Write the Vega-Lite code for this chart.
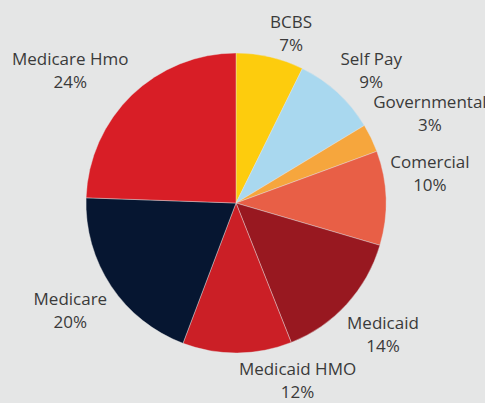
{
  "$schema": "https://vega.github.io/schema/vega-lite/v6.json",
  "width": 472,
  "height": 400,
  "autosize": "none",
  "padding": {"left": 0, "right": 13, "top": 3, "bottom": 0},
  "background": "#e5e6e6",
  "config": {
    "view": {"stroke": null},
    "text": {"font": "Open Sans", "fontSize": 17, "lineHeight": 23, "color": "#3a3a3a", "baseline": "middle", "align": "center"}
  },
  "data": {
    "values": [
      {"payer": "BCBS", "share": 7.3, "idx": 1},
      {"payer": "Self Pay", "share": 9.05, "idx": 2},
      {"payer": "Governmental", "share": 3.05, "idx": 3},
      {"payer": "Comercial", "share": 10.15, "idx": 4},
      {"payer": "Medicaid", "share": 14.45, "idx": 5},
      {"payer": "Medicaid HMO", "share": 11.75, "idx": 6},
      {"payer": "Medicare", "share": 19.8, "idx": 7},
      {"payer": "Medicare Hmo", "share": 24.45, "idx": 8}
    ]
  },
  "transform": [
    {"stack": "share", "groupby": [], "sort": [{"field": "idx", "order": "ascending"}], "as": ["s0", "s1"]},
    {"calculate": "(datum.s0 + datum.s1) / 2", "as": "smid"},
    {"calculate": "[datum.payer, format(datum.share / 100, '.0%')]", "as": "label"}
  ],
  "layer": [
    {
      "mark": {"type": "arc", "outerRadius": 150, "stroke": "#e5e6e6", "strokeWidth": 0.4},
      "encoding": {
        "theta": {"field": "s0", "type": "quantitative", "stack": null, "scale": {"domain": [0, 100]}},
        "theta2": {"field": "s1"},
        "color": {
          "field": "payer",
          "type": "nominal",
          "legend": null,
          "scale": {
            "domain": ["BCBS", "Self Pay", "Governmental", "Comercial", "Medicaid", "Medicaid HMO", "Medicare", "Medicare Hmo"],
            "range": ["#fdcc0d", "#a9d8ef", "#f6a63d", "#e85f46", "#981820", "#cb1f26", "#061631", "#d81e26"]
          }
        }
      }
    },
    {
      "transform": [{"filter": {"field": "payer", "equal": "Self Pay"}}],
      "mark": {"type": "text", "radius": 194, "dx": 4},
      "encoding": {
        "theta": {"field": "smid", "type": "quantitative", "stack": null, "scale": {"domain": [0, 100]}},
        "text": {"field": "label"}
      }
    },
    {
      "transform": [{"filter": {"field": "payer", "oneOf": ["Medicaid", "Medicare"]}}],
      "mark": {"type": "text", "radius": 199, "dy": -13},
      "encoding": {
        "theta": {"field": "smid", "type": "quantitative", "stack": null, "scale": {"domain": [0, 100]}},
        "text": {"field": "label"}
      }
    },
    {
      "transform": [{"filter": {"field": "payer", "equal": "BCBS"}}],
      "mark": {"type": "text", "radius": 194, "dx": 11, "dy": 9},
      "encoding": {
        "theta": {"field": "smid", "type": "quantitative", "stack": null, "scale": {"domain": [0, 100]}},
        "text": {"field": "label"}
      }
    },
    {
      "transform": [{"filter": {"field": "payer", "equal": "Governmental"}}],
      "mark": {"type": "text", "radius": 194, "dx": 19, "dy": -16},
      "encoding": {
        "theta": {"field": "smid", "type": "quantitative", "stack": null, "scale": {"domain": [0, 100]}},
        "text": {"field": "label"}
      }
    },
    {
      "transform": [{"filter": {"field": "payer", "equal": "Comercial"}}],
      "mark": {"type": "text", "radius": 194, "dy": -34},
      "encoding": {
        "theta": {"field": "smid", "type": "quantitative", "stack": null, "scale": {"domain": [0, 100]}},
        "text": {"field": "label"}
      }
    },
    {
      "transform": [{"filter": {"field": "payer", "equal": "Medicaid HMO"}}],
      "mark": {"type": "text", "radius": 194, "dx": 60, "dy": -27},
      "encoding": {
        "theta": {"field": "smid", "type": "quantitative", "stack": null, "scale": {"domain": [0, 100]}},
        "text": {"field": "label"}
      }
    },
    {
      "transform": [{"filter": {"field": "payer", "equal": "Medicare Hmo"}}],
      "mark": {"type": "text", "radius": 194, "dx": -31, "dy": -3},
      "encoding": {
        "theta": {"field": "smid", "type": "quantitative", "stack": null, "scale": {"domain": [0, 100]}},
        "text": {"field": "label"}
      }
    }
  ]
}
